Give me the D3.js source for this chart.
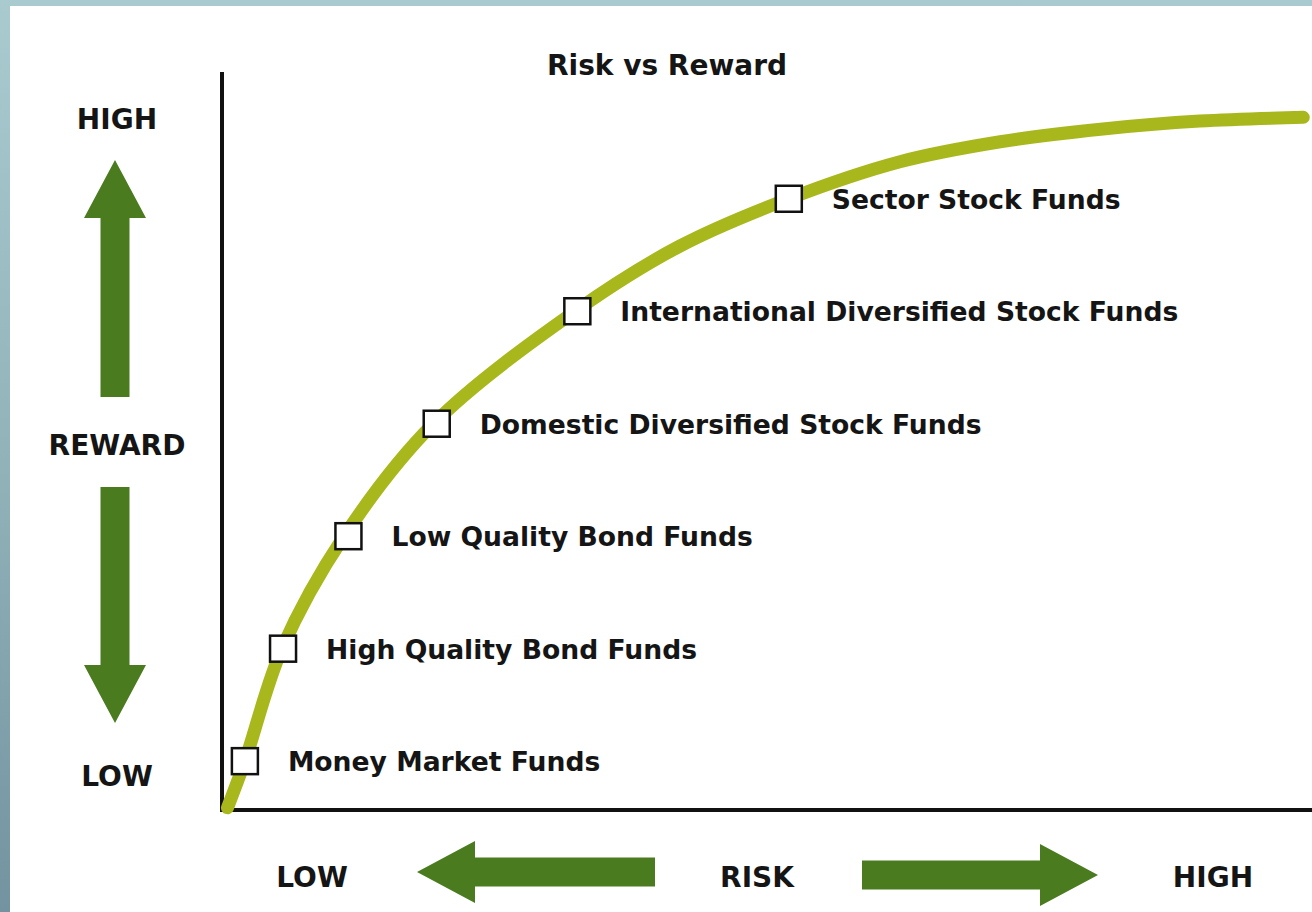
<!DOCTYPE html>
<html>
<head>
<meta charset="utf-8">
<script src="https://cdn.jsdelivr.net/npm/d3@7"></script>
<style>
  html, body { margin: 0; padding: 0; }
  body { width: 1312px; height: 912px; overflow: hidden;
         background: linear-gradient(180deg, #a9cbd0 0%, #8fb0b7 55%, #7393a0 100%); }
  svg { display: block; }
  text { font-family: "DejaVu Sans", Lato, sans-serif; font-weight: 700; fill: #151515; }
</style>
</head>
<body>
<svg id="chart" width="1312" height="912"></svg>
<script>
// curve of risk vs reward (0-10 both ways)
var curveRisk   = [0.05, 0.21, 0.55, 1.12, 1.94, 3.24, 4.20, 5.20, 6.22, 7.14, 8.06, 8.97, 9.92];
var curveReward = [0.03, 0.66, 2.18, 3.70, 5.22, 6.74, 7.62, 8.26, 8.76, 9.03, 9.20, 9.31, 9.36];

// funds placed on the curve
var fundNames  = ['Money Market Funds', 'High Quality Bond Funds', 'Low Quality Bond Funds',
                  'Domestic Diversified Stock Funds', 'International Diversified Stock Funds',
                  'Sector Stock Funds'];
var fundRisk   = [0.21, 0.56, 1.16, 1.97, 3.26, 5.20];
var fundReward = [0.66, 2.18, 3.70, 5.22, 6.74, 8.26];

var title = 'Risk vs Reward';
var rewardLabels = ['HIGH', 'REWARD', 'LOW'];
var riskLabels = ['LOW', 'RISK', 'HIGH'];

var svg = d3.select('#chart');
var green = '#4b7b1f';
var olive = '#a8b81c';

// white panel
svg.append('rect')
  .attr('x', 10).attr('y', 6)
  .attr('width', 1302).attr('height', 906)
  .attr('fill', '#fff');

var x = d3.scaleLinear().domain([0, 10]).range([222, 1312]);
var y = d3.scaleLinear().domain([0, 10]).range([810, 70]);

// axes: plain lines, no ticks
svg.append('line')
  .attr('x1', x(0)).attr('x2', x(0))
  .attr('y1', 72).attr('y2', y(0) + 2)
  .attr('stroke', '#111').attr('stroke-width', 4);
svg.append('line')
  .attr('x1', x(0) - 2).attr('x2', x(10))
  .attr('y1', y(0)).attr('y2', y(0))
  .attr('stroke', '#111').attr('stroke-width', 4);

// the curve
var pts = curveRisk.map((r, i) => [r, curveReward[i]]);
var line = d3.line()
  .x(d => x(d[0]))
  .y(d => y(d[1]))
  .curve(d3.curveCatmullRom.alpha(0.5));

svg.append('path')
  .datum(pts)
  .attr('d', line)
  .attr('fill', 'none')
  .attr('stroke', olive)
  .attr('stroke-width', 13)
  .attr('stroke-linecap', 'round');

// fund boxes + labels
var funds = fundNames.map((n, i) => ({ name: n, risk: fundRisk[i], reward: fundReward[i] }));
var box = 26;

var g = svg.append('g');
g.selectAll('rect.fund')
  .data(funds)
  .enter()
  .append('rect')
  .attr('class', 'fund')
  .attr('x', d => x(d.risk) - box / 2)
  .attr('y', d => y(d.reward) - box / 2)
  .attr('width', box).attr('height', box)
  .attr('fill', '#fff')
  .attr('stroke', '#111')
  .attr('stroke-width', 2.5);

g.selectAll('text.fund')
  .data(funds)
  .enter()
  .append('text')
  .attr('class', 'fund')
  .attr('x', d => x(d.risk) + 43)
  .attr('y', d => y(d.reward) + 10)
  .style('font-size', '26.6px')
  .text(d => d.name);

// title
svg.append('text')
  .attr('x', 667).attr('y', 75)
  .attr('text-anchor', 'middle')
  .style('font-size', '28px')
  .text(title);

// reward labels (left column)
var rewardY = [129, 455, 786];
svg.selectAll('text.rw')
  .data(rewardLabels)
  .enter()
  .append('text')
  .attr('class', 'rw')
  .attr('x', 117)
  .attr('y', (d, i) => rewardY[i])
  .attr('text-anchor', 'middle')
  .style('font-size', '28px')
  .text(d => d);

// risk labels (bottom row)
var riskX = [312, 757, 1213];
svg.selectAll('text.rk')
  .data(riskLabels)
  .enter()
  .append('text')
  .attr('class', 'rk')
  .attr('x', (d, i) => riskX[i])
  .attr('y', 887)
  .attr('text-anchor', 'middle')
  .style('font-size', '28px')
  .text(d => d);

// green arrows: [tail, tip] along one axis
function arrow(x1, y1, x2, y2) {
  var dx = x2 - x1, dy = y2 - y1;
  var len = Math.sqrt(dx * dx + dy * dy);
  var ux = dx / len, uy = dy / len;
  var px = -uy, py = ux;
  var shaft = 14.5, head = 31, headLen = 58;
  var bx = x2 - ux * headLen, by = y2 - uy * headLen;
  var p = [
    [x1 + px * shaft, y1 + py * shaft],
    [bx + px * shaft, by + py * shaft],
    [bx + px * head, by + py * head],
    [x2, y2],
    [bx - px * head, by - py * head],
    [bx - px * shaft, by - py * shaft],
    [x1 - px * shaft, y1 - py * shaft]
  ];
  svg.append('path')
    .attr('d', 'M' + p.join('L') + 'Z')
    .attr('fill', green);
}

arrow(115, 397, 115, 160);
arrow(115, 487, 115, 723);
arrow(655, 872, 417, 872);
arrow(862, 875, 1098, 875);
</script>
</body>
</html>
